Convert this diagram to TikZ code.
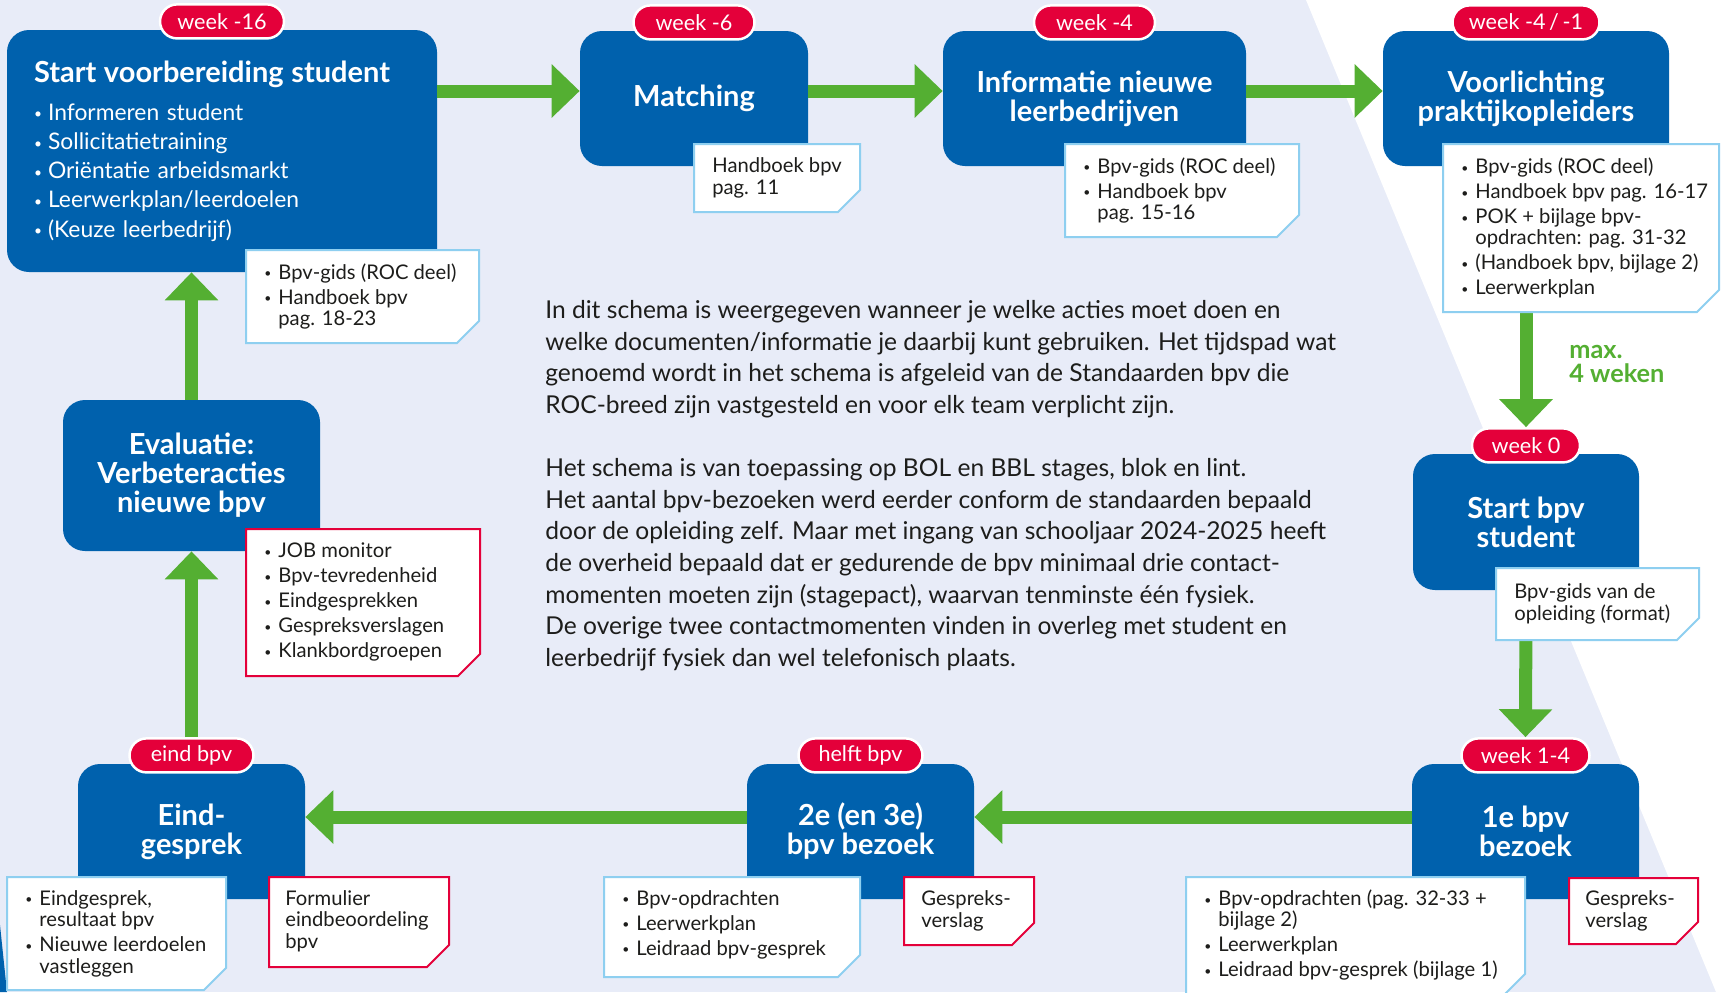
\documentclass[tikz,border=0pt]{standalone}
\usepackage{fontspec}
\setmainfont{Lato}
\usepackage{tikz}
\usetikzlibrary{arrows.meta,positioning,shapes.misc}
\definecolor{rocBlue}{HTML}{0061AD}
\definecolor{rocGreen}{HTML}{54AF32}
\definecolor{rocRed}{HTML}{E4003A}
\definecolor{rocLav}{HTML}{E8ECF8}
\definecolor{rocSky}{HTML}{8ECFF0}
\definecolor{rocInk}{HTML}{1D1D1B}
\newlength\pxl
\setlength\pxl{0.02cm}
\newcommand\blt{\makebox[8pt][l]{\raisebox{0.12ex}{\scalebox{0.6}{\textbullet}}}}
\newcommand\hng{\hspace*{8pt}}

\begin{document}
\begin{tikzpicture}[x=0.02cm, y=-0.02cm,
    box/.style={fill=rocBlue, rounded corners=22\pxl, text=white, align=center,
                font=\bfseries\fontsize{16.5}{16.5}\selectfont},
    tag/.style={rounded rectangle, fill=rocRed, draw=white, line width=2.5\pxl,
                text=white, font=\fontsize{12.3}{13}\selectfont,
                minimum height=34\pxl, inner xsep=0pt},
    flow/.style={rocGreen, line width=7.4pt, -{Triangle[width=29.5pt,length=15.9pt]}},
    sky/.style={fill=white, draw=rocSky, line width=2\pxl},
    rednote/.style={fill=white, draw=rocRed, line width=2\pxl},
    notetxt/.style={anchor=west, align=left, inner sep=0pt, text=rocInk,
                font=\fontsize{11.5}{12.3}\selectfont}]
    \useasboundingbox (0,0) rectangle (1721,992);
    % Background
    \fill[rocLav] (0,0) rectangle (1721,992);
    \fill[white] (1306,0) -- (1721,0) -- (1721,992) -- (1716,992) -- cycle;
    \fill[rocBlue] (0,925) -- (7,992) -- (0,992) -- cycle;

    % Top row
    \node[box, font=\fontsize{13}{16.6}\selectfont, align=left, text width=376\pxl,
          inner xsep=27\pxl, minimum width=430\pxl, minimum height=242\pxl] (b1) at (222,151)
        {{\bfseries\fontsize{16.5}{16.6}\selectfont Start voorbereiding student}\\[5pt]
         \blt Informeren student\\ \blt Sollicitatietraining\\ \blt Oriëntatie arbeidsmarkt\\
         \blt Leerwerkplan/leerdoelen\\ \blt (Keuze leerbedrijf)};
    \node[box, minimum width=228\pxl, minimum height=135\pxl] (b2) at (694,98.5) {Matching};
    \node[box, minimum width=303\pxl, minimum height=135\pxl] (b3) at (1094.5,98.5) {Informatie nieuwe\\leerbedrijven};
    \node[box, minimum width=286\pxl, minimum height=135\pxl] (b4) at (1526,98.5) {Voorlichting\\praktijkopleiders};
    % Right column
    \node[box, minimum width=226\pxl, minimum height=136\pxl] (b5) at (1526,522) {Start bpv\\student};
    % Bottom row
    \node[box, minimum width=227\pxl, minimum height=135\pxl] (b6) at (1525.5,831.5) {1e bpv\\bezoek};
    \node[box, minimum width=227\pxl, minimum height=135\pxl] (b7) at (860.5,831.5) {2e (en 3e)\\bpv bezoek};
    \node[box, minimum width=227\pxl, minimum height=135\pxl] (b8) at (191.5,831.5) {Eind-\\gesprek};
    % Left column
    \node[box, minimum width=257\pxl, minimum height=151\pxl] (b9) at (191.5,475.5) {Evaluatie:\\Verbeteracties\\nieuwe bpv};

    % Week tags
    \node[tag, minimum width=124\pxl, above=-10\pxl of b1] (t1) {week -16};
    \node[tag, minimum width=121\pxl, above=-10\pxl of b2] (t2) {week -6};
    \node[tag, minimum width=121\pxl, above=-10\pxl of b3] (t3) {week -4};
    \node[tag, minimum width=147\pxl, above=-10\pxl of b4] (t4) {week -4\,/\,-1};
    \node[tag, minimum width=108\pxl, above=-10\pxl of b5] (t5) {week 0};
    \node[tag, minimum width=128\pxl, above=-10\pxl of b6] (t6) {week 1-4};
    \node[tag, minimum width=124\pxl, above=-10\pxl of b7] (t7) {helft bpv};
    \node[tag, minimum width=124\pxl, above=-10\pxl of b8] (t8) {eind bpv};

    % Arrows
    \coordinate (toprow) at (0,91);
    \coordinate (botrow) at (0,817);
    \draw[flow] (b1.east |- toprow) -- (b2.west |- toprow);
    \draw[flow] (b2.east |- toprow) -- (b3.west |- toprow);
    \draw[flow] (b3.east |- toprow) -- (b4.west |- toprow);
    \draw[flow] (b4.south) -- (t5.north);
    \draw[flow] (b5.south) -- (t6.north);
    \draw[flow] (b6.west |- botrow) -- (b7.east |- botrow);
    \draw[flow] (b7.west |- botrow) -- (b8.east |- botrow);
    \draw[flow] (t8.north) -- (b9.south);
    \draw[flow] (b9.north) -- (b9.north |- b1.south);
    \node[anchor=west, align=left, inner sep=0pt, text=rocGreen,
          font=\bfseries\fontsize{14.4}{14}\selectfont] (maxw) at (1569,364) {max.\\4 weken};

    % Notes
    \draw[sky] (246,250) -- (479,250) -- (479,321) -- (457,343) -- (246,343) -- cycle;
    \node[notetxt] (n1) at (264,296.5) {\blt Bpv-gids (ROC deel)\\[1.9pt] \blt Handboek bpv\\ \hng pag. 18-23};
    \draw[sky] (694,144) -- (860,144) -- (860,190) -- (838,212) -- (694,212) -- cycle;
    \node[notetxt] (n2) at (712,178) {Handboek bpv\\pag. 11};
    \draw[sky] (1065,144) -- (1299,144) -- (1299,215) -- (1277,237) -- (1065,237) -- cycle;
    \node[notetxt] (n3) at (1083,190.5) {\blt Bpv-gids (ROC deel)\\[1.9pt] \blt Handboek bpv\\ \hng pag. 15-16};
    \draw[sky] (1443,144) -- (1719,144) -- (1719,290) -- (1697,312) -- (1443,312) -- cycle;
    \node[notetxt] (n4) at (1461,228) {\blt Bpv-gids (ROC deel)\\[1.9pt] \blt Handboek bpv pag. 16-17\\[1.9pt]
        \blt POK + bijlage bpv-\\ \hng opdrachten: pag. 31-32\\[1.9pt] \blt (Handboek bpv, bijlage 2)\\[1.9pt] \blt Leerwerkplan};
    \draw[sky] (1496,568) -- (1699,568) -- (1699,618) -- (1677,640) -- (1496,640) -- cycle;
    \node[notetxt] (n5) at (1514,604) {Bpv-gids van de\\opleiding (format)};
    \draw[sky] (1186,877) -- (1525,877) -- (1525,974) -- (1503,996) -- (1186,996) -- cycle;
    \node[notetxt] (n6a) at (1204,935) {\blt Bpv-opdrachten (pag. 32-33 +\\ \hng bijlage 2)\\[1.9pt]
        \blt Leerwerkplan\\[1.9pt] \blt Leidraad bpv-gesprek (bijlage 1)};
    \draw[rednote] (1569,878) -- (1698,878) -- (1698,922) -- (1676,944) -- (1569,944) -- cycle;
    \node[notetxt] (n6b) at (1585,911) {Gespreks-\\verslag};
    \draw[sky] (604,877) -- (860,877) -- (860,955) -- (838,977) -- (604,977) -- cycle;
    \node[notetxt] (n7a) at (622,924.5) {\blt Bpv-opdrachten\\[1.9pt] \blt Leerwerkplan\\[1.9pt] \blt Leidraad bpv-gesprek};
    \draw[rednote] (904,877) -- (1034,877) -- (1034,923) -- (1012,945) -- (904,945) -- cycle;
    \node[notetxt] (n7b) at (921,911) {Gespreks-\\verslag};
    \draw[sky] (7,877) -- (226,877) -- (226,968) -- (204,990) -- (7,990) -- cycle;
    \node[notetxt] (n8a) at (25,933.5) {\blt Eindgesprek,\\ \hng resultaat bpv\\[1.9pt] \blt Nieuwe leerdoelen\\ \hng vastleggen};
    \draw[rednote] (269,877) -- (449,877) -- (449,945) -- (427,967) -- (269,967) -- cycle;
    \node[notetxt] (n8b) at (285,921) {Formulier\\eindbeoordeling\\bpv};
    \draw[rednote] (246,529) -- (480,529) -- (480,654) -- (458,676) -- (246,676) -- cycle;
    \node[notetxt] (n9) at (264,602) {\blt JOB monitor\\[1.9pt] \blt Bpv-tevredenheid\\[1.9pt] \blt Eindgesprekken\\[1.9pt]
        \blt Gespreksverslagen\\[1.9pt] \blt Klankbordgroepen};

    % Explanation
    \node[anchor=north west, align=left, inner sep=0pt, text=rocInk,
          font=\fontsize{14}{18}\selectfont] (intro) at (545,300)
        {In dit schema is weergegeven wanneer je welke acties moet doen en\\
         welke documenten/informatie je daarbij kunt gebruiken. Het tijdspad wat\\
         genoemd wordt in het schema is afgeleid van de Standaarden bpv die\\
         ROC-breed zijn vastgesteld en voor elk team verplicht zijn.\\[18pt]
         Het schema is van toepassing op BOL en BBL stages, blok en lint.\\
         Het aantal bpv-bezoeken werd eerder conform de standaarden bepaald\\
         door de opleiding zelf. Maar met ingang van schooljaar 2024-2025 heeft\\
         de overheid bepaald dat er gedurende de bpv minimaal drie contact-\\
         momenten moeten zijn (stagepact), waarvan tenminste één fysiek.\\
         De overige twee contactmomenten vinden in overleg met student en\\
         leerbedrijf fysiek dan wel telefonisch plaats.};
\end{tikzpicture}
\end{document}
